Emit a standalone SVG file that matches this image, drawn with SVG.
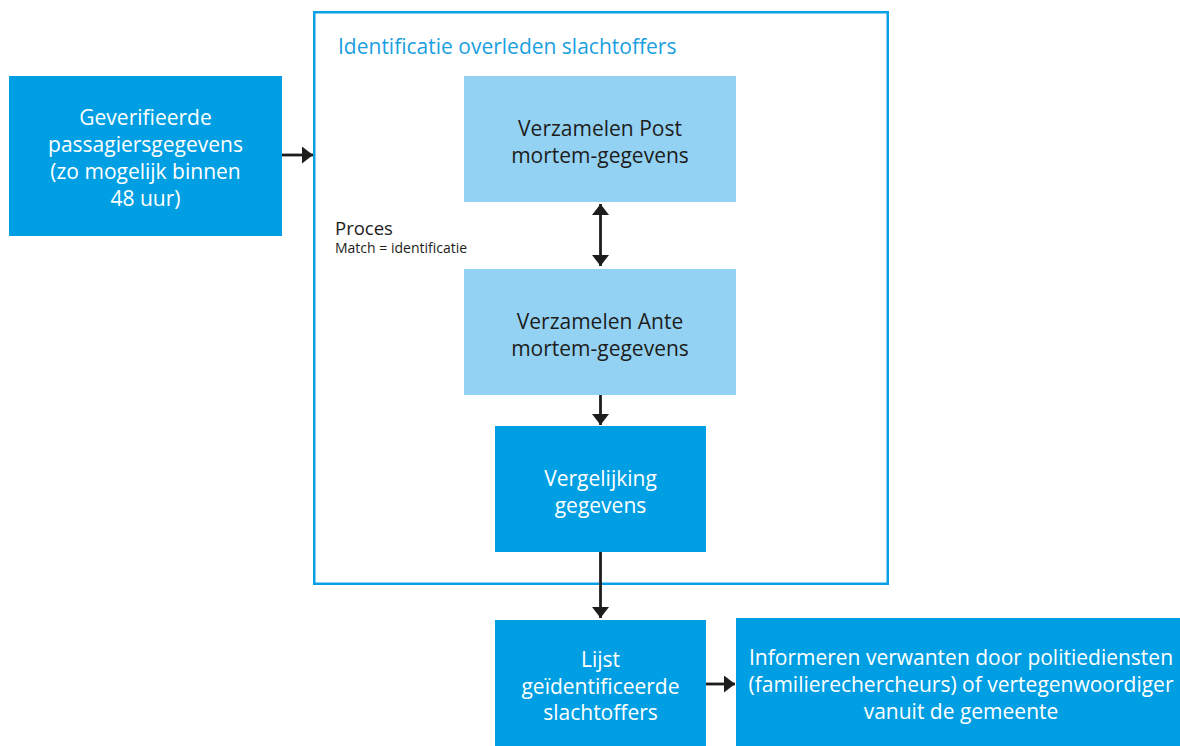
<svg xmlns="http://www.w3.org/2000/svg" width="1180" height="746" viewBox="0 0 1180 746">
<style>
.dark{fill:#009FE3}
.light{fill:#94D2F4}
.t{font-family:"Open Sans","Noto Sans",sans-serif;font-size:21px;text-anchor:middle}
.w{fill:#ffffff}
.k{fill:#1D1D1B}
.edge{stroke:#1D1D1B;stroke-width:2.8;fill:none}
</style>
<defs>
<marker id="ah" viewBox="0 0 11 17" refX="11" refY="8.5" markerWidth="11" markerHeight="17" orient="auto-start-reverse" markerUnits="userSpaceOnUse">
<path d="M0,0 L11,8.5 L0,17 z" fill="#1D1D1B"/>
</marker>
</defs>
<rect width="1180" height="746" fill="#ffffff"/>
<g id="container">
<rect x="314.25" y="12.25" width="573.5" height="571.5" fill="none" stroke="#0AA0E6" stroke-width="2.5"/>
<text x="338" y="54" font-family="'Open Sans','Noto Sans',sans-serif" font-size="21" fill="#1A9FE0">Identificatie overleden slachtoffers</text>
</g>
<g id="proces-label">
<text x="335" y="235" font-family="'Open Sans','Noto Sans',sans-serif" font-size="18.5" fill="#1D1D1B">Proces</text>
<text x="335" y="253" font-family="'Open Sans','Noto Sans',sans-serif" font-size="14" fill="#1D1D1B">Match = identificatie</text>
</g>
<g id="geverifieerde">
<rect class="dark" x="9" y="76" width="273" height="160"/>
<text class="t w"><tspan x="145.5" y="125">Geverifieerde</tspan><tspan x="145.5" y="152">passagiersgegevens</tspan><tspan x="145.5" y="179">(zo mogelijk binnen</tspan><tspan x="145.5" y="206">48 uur)</tspan></text>
</g>
<g id="post">
<rect class="light" x="464" y="76" width="272" height="126"/>
<text class="t k"><tspan x="600" y="136">Verzamelen Post</tspan><tspan x="600" y="163">mortem-gegevens</tspan></text>
</g>
<g id="ante">
<rect class="light" x="464" y="269" width="272" height="126"/>
<text class="t k"><tspan x="600" y="329">Verzamelen Ante</tspan><tspan x="600" y="356">mortem-gegevens</tspan></text>
</g>
<g id="vergelijking">
<rect class="dark" x="495" y="426" width="211" height="126"/>
<text class="t w"><tspan x="600.5" y="486">Vergelijking</tspan><tspan x="600.5" y="513">gegevens</tspan></text>
</g>
<g id="lijst">
<rect class="dark" x="495" y="620" width="211" height="126"/>
<text class="t w"><tspan x="600.5" y="667">Lijst</tspan><tspan x="600.5" y="693.5">geïdentificeerde</tspan><tspan x="600.5" y="720">slachtoffers</tspan></text>
</g>
<g id="informeren">
<rect class="dark" x="736" y="618" width="444" height="128"/>
<text class="t w"><tspan x="961" y="665">Informeren verwanten door politiediensten</tspan><tspan x="961" y="692">(familierechercheurs) of vertegenwoordiger</tspan><tspan x="961" y="719">vanuit de gemeente</tspan></text>
</g>
<g id="connectors">
<line class="edge" x1="282" y1="155" x2="313" y2="155" marker-end="url(#ah)"/>
<line class="edge" x1="600.5" y1="204" x2="600.5" y2="266" marker-start="url(#ah)" marker-end="url(#ah)"/>
<line class="edge" x1="600.5" y1="395" x2="600.5" y2="425" marker-end="url(#ah)"/>
<line class="edge" x1="600.5" y1="552" x2="600.5" y2="618" marker-end="url(#ah)"/>
<line class="edge" x1="706" y1="684" x2="735" y2="684" marker-end="url(#ah)"/>
</g>
</svg>
